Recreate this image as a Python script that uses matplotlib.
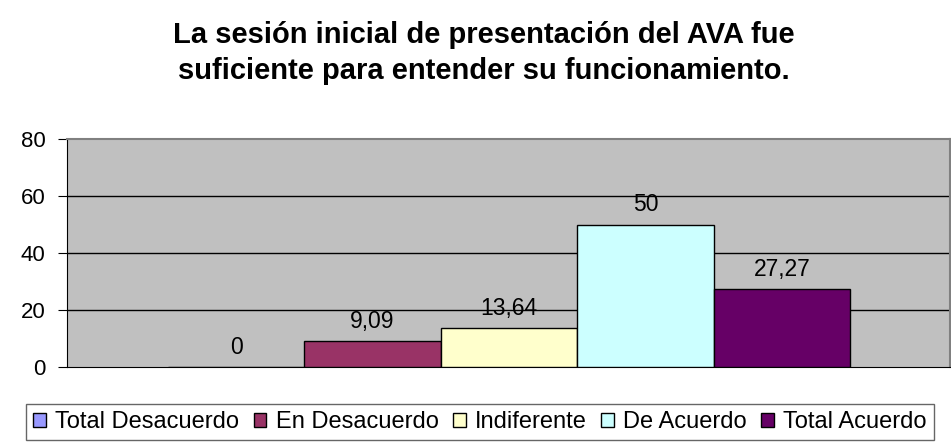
import numpy as np
import matplotlib
matplotlib.use('Agg')
import matplotlib.pyplot as plt

plt.rcParams['font.family'] = ['Liberation Sans', 'DejaVu Sans']

TITULO = 'La sesión inicial de presentación del AVA fue\nsuficiente para entender su funcionamiento.'
categorias = ['Total Desacuerdo', 'En Desacuerdo', 'Indiferente', 'De Acuerdo', 'Total Acuerdo']
valores = [0, 9.09, 13.64, 50, 27.27]
etiquetas = ['0', '9,09', '13,64', '50', '27,27']
colores = ['#9999FF', '#993366', '#FFFFCC', '#CCFFFF', '#660066']
marcas_y = [0, 20, 40, 60, 80]

W, H = 951, 442
fig = plt.figure(figsize=(W / 100, H / 100), dpi=100)
ax = fig.add_axes([67 / W, (H - 367) / H, 883 / W, 228 / H])
ax.set_facecolor('#C0C0C0')

x = np.arange(len(categorias))
barras = []
for i, (nombre, v, c) in enumerate(zip(categorias, valores, colores)):
    b = ax.bar(x[i], v, width=1.0, color=c, edgecolor='black', linewidth=1.0,
               label=nombre, zorder=3)
    barras.append(b)
    ax.annotate(etiquetas[i], (x[i], v), xytext=(0, 9.5), textcoords='offset points',
                ha='center', va='baseline', fontsize=16.5, zorder=4)

ax.set_xlim(-0.5 - 101 / 136.5, 4.5 + 100 / 136.5)
ax.set_ylim(0, 80)
ax.set_yticks(marcas_y)
ax.tick_params(axis='y', labelsize=16, length=6.5, direction='out', color='black', pad=9)
ax.set_xticks([])
for y in marcas_y[1:-1]:
    ax.axhline(y, color='black', linewidth=1.0, zorder=1)

for lado in ['top', 'right']:
    ax.spines[lado].set_color('#808080')
    ax.spines[lado].set_linewidth(1.5)
ax.spines['left'].set_color('black')
ax.spines['bottom'].set_color('black')

fig.text(484 / W, 1 - 53 / H, TITULO, ha='center', va='center', fontsize=21,
         fontweight='bold', linespacing=1.4)

leg = fig.legend(handles=[b[0] for b in barras], labels=categorias, loc='center',
                 bbox_to_anchor=(480 / W, 1 - 422 / H), ncol=5, fontsize=17,
                 frameon=True, fancybox=False, edgecolor='#404040', handlelength=0.54,
                 handleheight=0.54, handletextpad=0.4, columnspacing=0.6,
                 borderpad=0.3, borderaxespad=0)
leg.get_frame().set_linewidth(1.0)

fig.savefig('out.png', dpi=100)
